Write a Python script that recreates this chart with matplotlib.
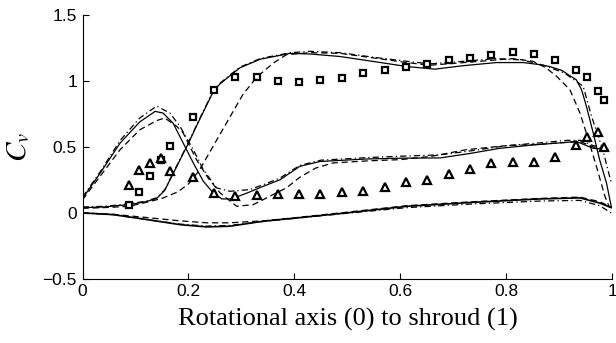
import matplotlib
matplotlib.use('Agg')
from matplotlib import pyplot as plt

plt.rcParams['mathtext.fontset'] = 'stix'

# measured points
meas_x = [0.088, 0.107, 0.127, 0.148, 0.166, 0.208, 0.248, 0.288, 0.329, 0.369, 0.409,
          0.449, 0.49, 0.53, 0.57, 0.61, 0.65, 0.691, 0.731, 0.771, 0.812, 0.852,
          0.892, 0.932, 0.952, 0.973, 0.985]
sq_y = [0.063, 0.156, 0.28, 0.40, 0.51, 0.73, 0.93, 1.03, 1.03, 0.997, 0.992,
        1.007, 1.025, 1.058, 1.083, 1.103, 1.13, 1.156, 1.171, 1.199, 1.217, 1.207,
        1.156, 1.086, 1.027, 0.926, 0.856]
tri_y = [0.215, 0.328, 0.379, 0.415, 0.315, 0.27, 0.15, 0.126, 0.139, 0.146, 0.146,
         0.146, 0.156, 0.164, 0.197, 0.232, 0.252, 0.298, 0.333, 0.379, 0.386, 0.386,
         0.424, 0.512, 0.576, 0.613, 0.50]

# upper curve (solid / dashed / dash-dot)
up_x = [0, 0.04, 0.088, 0.12, 0.14, 0.155, 0.17, 0.185, 0.2, 0.22, 0.248, 0.26, 0.272,
        0.297, 0.335, 0.36, 0.38, 0.392, 0.43, 0.486, 0.548, 0.612, 0.665, 0.718, 0.781,
        0.832, 0.862, 0.882, 0.905, 0.92, 0.932, 0.942, 0.951, 0.964, 0.976, 0.989, 0.998]
up_solid = [0.04, 0.045, 0.063, 0.085, 0.11, 0.17, 0.29, 0.41, 0.53, 0.70, 0.93, 0.98, 1.02,
            1.10, 1.165, 1.185, 1.2, 1.21, 1.205, 1.186, 1.149, 1.11, 1.09, 1.116, 1.14,
            1.14, 1.125, 1.11, 1.08, 1.04, 1.01, 0.934, 0.81, 0.606, 0.404, 0.227, 0.05]
up_dash_x = [0, 0.04, 0.088, 0.12, 0.15, 0.18, 0.2, 0.22, 0.24, 0.26, 0.28, 0.303, 0.329,
             0.36, 0.385, 0.43, 0.486, 0.55, 0.612, 0.656, 0.72, 0.812, 0.85, 0.875, 0.895,
             0.92, 0.939, 0.951, 0.97, 0.986, 0.995]
up_dash = [0.035, 0.04, 0.05, 0.08, 0.11, 0.16, 0.22, 0.32, 0.46, 0.60, 0.74, 0.90, 1.03,
           1.136, 1.2, 1.215, 1.21, 1.175, 1.14, 1.12, 1.14, 1.17, 1.15, 1.1, 1.035,
           0.934, 0.757, 0.606, 0.353, 0.126, 0.038]
up_dd_x = [0, 0.04, 0.088, 0.12, 0.14, 0.155, 0.17, 0.185, 0.2, 0.22, 0.248, 0.26, 0.272,
           0.297, 0.335, 0.36, 0.38, 0.392, 0.43, 0.486, 0.55, 0.612, 0.656, 0.72, 0.78,
           0.83, 0.87, 0.91, 0.945, 0.961, 0.982, 0.998]
up_dd = [0.045, 0.05, 0.068, 0.09, 0.115, 0.175, 0.295, 0.415, 0.535, 0.705, 0.935, 0.985,
         1.025, 1.105, 1.17, 1.19, 1.205, 1.215, 1.225, 1.215, 1.18, 1.15, 1.13, 1.15, 1.17,
         1.16, 1.12, 1.06, 0.96, 0.73, 0.48, 0.227]

# peak curve
pk_x = [0, 0.033, 0.071, 0.108, 0.137, 0.152, 0.171, 0.19, 0.209, 0.228, 0.247, 0.263,
        0.281, 0.31, 0.34, 0.373, 0.41, 0.448, 0.536, 0.6, 0.675, 0.73, 0.788, 0.85,
        0.914, 0.932, 0.964, 0.992]
pk_solid = [0.11, 0.30, 0.53, 0.69, 0.77, 0.757, 0.68, 0.53, 0.379, 0.24, 0.15, 0.106,
            0.106, 0.15, 0.2, 0.252, 0.353, 0.39, 0.409, 0.415, 0.417, 0.45, 0.49, 0.515,
            0.535, 0.542, 0.49, 0.48]
pk_dash_x = [0, 0.033, 0.071, 0.108, 0.14, 0.155, 0.178, 0.19, 0.215, 0.237, 0.26, 0.291,
             0.322, 0.335, 0.36, 0.385, 0.41, 0.44, 0.473, 0.54, 0.6, 0.66, 0.725, 0.8,
             0.86, 0.914, 0.94, 0.964, 0.99]
pk_dash = [0.10, 0.277, 0.48, 0.63, 0.70, 0.72, 0.656, 0.606, 0.404, 0.265, 0.15, 0.05,
           0.063, 0.088, 0.14, 0.19, 0.27, 0.34, 0.379, 0.395, 0.404, 0.43, 0.48, 0.51,
           0.52, 0.535, 0.54, 0.50, 0.48]
pk_dd_x = [0, 0.033, 0.071, 0.108, 0.14, 0.165, 0.184, 0.209, 0.228, 0.253, 0.278, 0.316,
           0.345, 0.373, 0.41, 0.45, 0.54, 0.6, 0.675, 0.75, 0.8, 0.86, 0.914, 0.94,
           0.964, 0.99]
pk_dd = [0.12, 0.31, 0.55, 0.72, 0.81, 0.757, 0.656, 0.48, 0.328, 0.19, 0.164, 0.177,
         0.22, 0.265, 0.36, 0.40, 0.42, 0.43, 0.44, 0.48, 0.51, 0.53, 0.55, 0.55, 0.51, 0.49]

# hub curve
hub_x = [0, 0.058, 0.121, 0.184, 0.234, 0.278, 0.341, 0.404, 0.498, 0.612, 0.737, 0.863,
         0.939, 0.976, 0.998]
hub_solid = [0, -0.013, -0.05, -0.089, -0.106, -0.101, -0.063, -0.038, 0.0, 0.05, 0.08,
             0.106, 0.114, 0.075, 0.04]
hub_dash = [0, -0.01, -0.035, -0.06, -0.075, -0.075, -0.06, -0.035, 0.005, 0.055, 0.085,
            0.11, 0.12, 0.085, 0.045]
hub_dd = [0, -0.013, -0.05, -0.085, -0.10, -0.095, -0.065, -0.04, -0.003, 0.04, 0.068,
          0.09, 0.095, 0.055, 0.0]

xticks = [0, 0.2, 0.4, 0.6, 0.8, 1]
xtick_labels = ['0', '0.2', '0.4', '0.6', '0.8', '1']
yticks = [-0.5, 0, 0.5, 1, 1.5]
ytick_labels = ['\u22120.5', '0', '0.5', '1', '1.5']

fig = plt.figure(figsize=(6.16, 3.43), dpi=100)
ax = fig.add_axes([0.134, 0.187, 0.86, 0.769])

lw = 0.9
dash = (5, 3)
dashdot = (5, 2.5, 1, 2.5)

ax.plot(up_x, up_solid, 'k-', lw=lw)
ax.plot(up_dash_x, up_dash, 'k--', lw=lw, dashes=dash)
ax.plot(up_dd_x, up_dd, 'k-.', lw=lw, dashes=dashdot)
ax.plot(pk_x, pk_solid, 'k-', lw=lw)
ax.plot(pk_dash_x, pk_dash, 'k--', lw=lw, dashes=dash)
ax.plot(pk_dd_x, pk_dd, 'k-.', lw=lw, dashes=dashdot)
ax.plot(hub_x, hub_solid, 'k-', lw=1.2)
ax.plot(hub_x, hub_dash, 'k--', lw=lw, dashes=dash)
ax.plot(hub_x, hub_dd, 'k-.', lw=lw, dashes=dashdot)

ax.plot(meas_x, sq_y, 's', ms=4.8, mfc='white', mec='black', mew=1.6, ls='none')
ax.plot(meas_x, tri_y, '^', ms=6.3, mfc='white', mec='black', mew=1.6, ls='none')

ax.set_xlim(0, 1)
ax.set_ylim(-0.5, 1.5)
ax.set_xticks(xticks)
ax.set_xticklabels(xtick_labels, family='Liberation Sans', fontsize=12.5)
ax.set_yticks(yticks)
ax.set_yticklabels(ytick_labels, family='Liberation Sans', fontsize=12.5)
ax.tick_params(direction='in', length=4.5, width=0.8, pad=4)
ax.spines['top'].set_visible(False)
ax.spines['right'].set_visible(False)

ax.set_xlabel('Rotational axis (0) to shroud (1)', family='Liberation Serif', fontsize=19)
ax.xaxis.set_label_coords(0.5, -0.11)
ax.set_ylabel('$C_v$', fontsize=21)
ax.yaxis.set_label_coords(-0.095, 0.5)

plt.savefig('out.png', dpi=100)
